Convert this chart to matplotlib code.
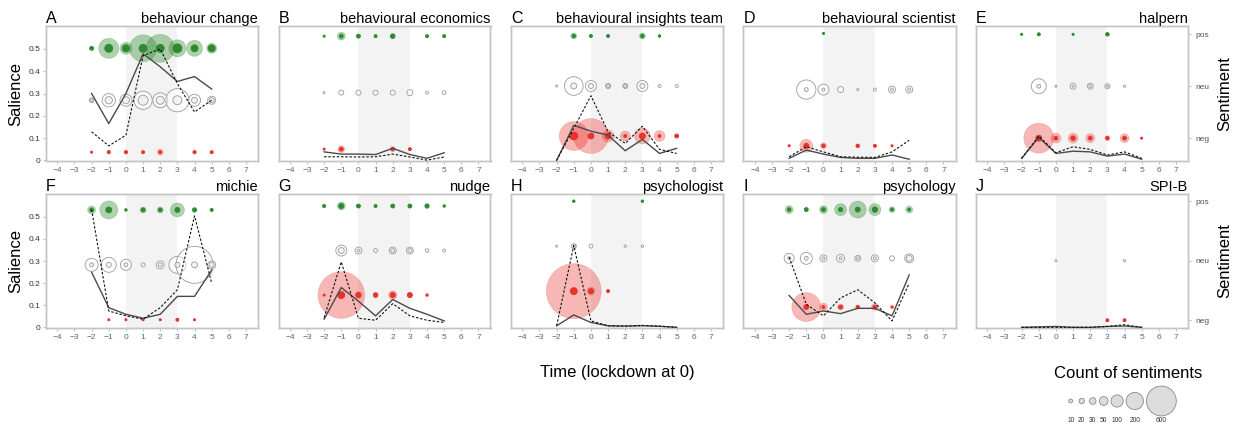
import numpy as np
import matplotlib.pyplot as plt

plt.rcParams['font.family'] = ['Liberation Sans', 'DejaVu Sans']

# --- Data ---
times = [-2, -1, 0, 1, 2, 3, 4, 5]
letters = ['A', 'B', 'C', 'D', 'E', 'F', 'G', 'H', 'I', 'J']
terms = ['behaviour change', 'behavioural economics', 'behavioural insights team',
         'behavioural scientist', 'halpern', 'michie', 'nudge', 'psychologist',
         'psychology', 'SPI-B']

# counts per time point (outer halo / inner dot) for each sentiment
pos_outer = [
    [10, 270, 97, 490, 527, 195, 172, 67],
    [3, 43, 10, 6, 14, 0, 6, 6],
    [0, 24, 6, 6, 0, 24, 4, 0],
    [0, 0, 3, 0, 0, 0, 0, 0],
    [3, 6, 0, 3, 0, 8, 0, 0],
    [43, 218, 4, 24, 24, 132, 17, 6],
    [6, 43, 10, 6, 10, 10, 17, 4],
    [0, 4, 0, 0, 0, 4, 0, 0],
    [43, 10, 43, 97, 195, 97, 24, 33],
    [0, 0, 0, 0, 0, 0, 0, 0],
]
pos_inner = [
    [10, 43, 36, 43, 43, 54, 33, 33],
    [3, 10, 10, 6, 14, 0, 6, 6],
    [0, 8, 6, 6, 0, 8, 4, 0],
    [0, 0, 3, 0, 0, 0, 0, 0],
    [3, 6, 0, 3, 0, 8, 0, 0],
    [10, 24, 4, 10, 10, 17, 10, 6],
    [6, 17, 10, 6, 10, 10, 10, 4],
    [0, 4, 0, 0, 0, 4, 0, 0],
    [10, 10, 10, 12, 17, 20, 6, 6],
    [0, 0, 0, 0, 0, 0, 0, 0],
]
neu_outer = [
    [15, 119, 97, 225, 150, 360, 97, 43],
    [3, 17, 17, 17, 17, 24, 6, 10],
    [3, 235, 81, 17, 17, 81, 6, 6],
    [0, 250, 81, 24, 3, 6, 33, 33],
    [0, 150, 3, 24, 24, 17, 3, 0],
    [114, 150, 81, 10, 43, 195, 920, 43],
    [0, 81, 33, 10, 33, 33, 8, 6],
    [3, 17, 10, 0, 4, 4, 0, 0],
    [67, 97, 33, 43, 24, 33, 17, 54],
    [0, 0, 3, 0, 0, 0, 3, 0],
]
neu_inner = [
    [5, 36, 33, 67, 43, 54, 24, 17],
    [0, 0, 0, 0, 0, 0, 0, 0],
    [0, 24, 17, 6, 6, 17, 0, 0],
    [0, 10, 6, 0, 0, 0, 6, 6],
    [0, 10, 0, 3, 6, 3, 0, 0],
    [10, 17, 10, 0, 10, 17, 24, 17],
    [0, 24, 6, 0, 10, 10, 0, 0],
    [0, 6, 0, 0, 0, 0, 0, 0],
    [6, 10, 6, 6, 6, 6, 0, 24],
    [0, 0, 0, 0, 0, 0, 0, 0],
]
neg_outer = [
    [3, 10, 10, 6, 24, 0, 10, 6],
    [3, 33, 0, 0, 17, 6, 0, 0],
    [0, 565, 823, 97, 67, 172, 81, 10],
    [3, 114, 24, 0, 8, 6, 3, 0],
    [0, 605, 67, 67, 54, 17, 54, 3],
    [0, 3, 3, 3, 3, 6, 3, 0],
    [3, 1465, 33, 14, 49, 17, 4, 0],
    [0, 2030, 43, 6, 0, 0, 0, 0],
    [0, 565, 43, 24, 8, 33, 4, 0],
    [0, 0, 0, 0, 0, 6, 6, 0],
]
neg_inner = [
    [3, 6, 6, 6, 6, 0, 6, 6],
    [3, 10, 0, 0, 8, 6, 0, 0],
    [0, 43, 24, 24, 6, 24, 6, 10],
    [3, 17, 8, 0, 8, 6, 3, 0],
    [0, 24, 10, 14, 10, 8, 10, 3],
    [0, 3, 3, 3, 3, 6, 3, 0],
    [3, 33, 17, 14, 17, 17, 4, 0],
    [0, 33, 17, 6, 0, 0, 0, 0],
    [0, 17, 6, 10, 8, 10, 4, 0],
    [0, 0, 0, 0, 0, 6, 6, 0],
]

salience_solid = [
    [0.30, 0.165, 0.30, 0.478, 0.42, 0.354, 0.376, 0.32],
    [0.038, 0.028, 0.028, 0.026, 0.054, 0.026, 0.009, 0.034],
    [0.0, 0.157, 0.131, 0.113, 0.043, 0.094, 0.031, 0.054],
    [0.009, 0.046, 0.028, 0.013, 0.009, 0.009, 0.024, 0.005],
    [0.009, 0.103, 0.031, 0.041, 0.038, 0.019, 0.028, 0.005],
    [0.249, 0.089, 0.059, 0.041, 0.059, 0.14, 0.14, 0.259],
    [0.037, 0.18, 0.118, 0.052, 0.126, 0.086, 0.059, 0.029],
    [0.007, 0.056, 0.022, 0.007, 0.006, 0.007, 0.005, 0.0],
    [0.144, 0.059, 0.074, 0.062, 0.086, 0.086, 0.052, 0.237],
    [0.0, 0.002, 0.004, 0.0, 0.0, 0.004, 0.006, 0.0],
]
salience_dashed = [
    [0.128, 0.065, 0.113, 0.47, 0.50, 0.344, 0.217, 0.27],
    [0.016, 0.016, 0.015, 0.016, 0.028, 0.015, 0.001, 0.015],
    [0.0, 0.143, 0.29, 0.128, 0.076, 0.153, 0.049, 0.031],
    [0.016, 0.061, 0.038, 0.016, 0.014, 0.013, 0.038, 0.09],
    [0.009, 0.109, 0.034, 0.061, 0.049, 0.024, 0.038, 0.009],
    [0.533, 0.074, 0.052, 0.037, 0.089, 0.17, 0.504, 0.2],
    [0.044, 0.296, 0.041, 0.032, 0.107, 0.052, 0.032, 0.022],
    [0.007, 0.37, 0.029, 0.007, 0.005, 0.009, 0.005, 0.0],
    [0.318, 0.104, 0.052, 0.133, 0.17, 0.111, 0.029, 0.2],
    [0.0, 0.0, 0.0, 0.0, 0.0, 0.004, 0.012, 0.0],
]

legend_counts = [10, 20, 30, 50, 100, 200, 600]

# --- Layout / style ---
sent_limits = [(-1.17, 1.43), (-1.21, 1.18), (-1.5, 1.2), (-1.27, 1.13), (-1.44, 1.16),
               (-1.15, 1.29), (-1.74, 1.27), (-1.82, 1.16), (-1.43, 1.32), (-1.13, 1.12)]
SIZE = 0.77          # marker area (pt^2) per counted item
W, H = 1235, 425
SPINE = '#c4c4c4'
TICK_BLUE = '#56648f'
GREEN, RED, GREY = '#2f8a2f', '#e8322c', '#9a9a9a'


def bubbles(ax, y, outer, inner, face_out, face_in, edge_out, edge_in):
    x = np.array(times)
    o = np.array(outer, float)
    i = np.array(inner, float)
    m = o > 0
    ax.scatter(x[m], np.full(m.sum(), y), s=o[m] * SIZE, c=[face_out],
               edgecolors=[edge_out], linewidths=0.6, zorder=2, clip_on=False)
    m = i > 0
    ax.scatter(x[m], np.full(m.sum(), y), s=i[m] * SIZE, c=[face_in],
               edgecolors=[edge_in], linewidths=0.6, zorder=3, clip_on=False)


fig = plt.figure(figsize=(W / 100, H / 100), dpi=100)

left0, width, step = 46 / W, 212 / W, 232.5 / W
rows = [(1 - 161 / H, 135 / H), (1 - 328 / H, 134 / H)]

for k in range(10):
    r, c = divmod(k, 5)
    ax = fig.add_axes([left0 + c * step, rows[r][0], width, rows[r][1]])
    ax2 = ax.twinx()
    ax.set_zorder(2)
    ax.patch.set_visible(False)
    ax2.set_zorder(1)

    ax2.axvspan(0, 3, color='#f3f3f3', zorder=0, lw=0)
    bubbles(ax2, 1, pos_outer[k], pos_inner[k], (0.18, 0.54, 0.18, 0.38), GREEN,
            (0.18, 0.54, 0.18, 0.25), GREEN)
    bubbles(ax2, 0, neu_outer[k], neu_inner[k], (1, 1, 1, 0.5), (0.92, 0.92, 0.92, 0.6),
            GREY, GREY)
    bubbles(ax2, -1, neg_outer[k], neg_inner[k], (0.91, 0.2, 0.17, 0.35), RED,
            (0.91, 0.2, 0.17, 0.2), RED)

    ax.plot(times, salience_solid[k], color='#4a4a4a', lw=1.0, zorder=4)
    ax.plot(times, salience_dashed[k], color='#111111', lw=0.8,
            ls=(0, (2.2, 1.6)), zorder=4)

    ax.set_xlim(-4.66, 7.7)
    ax.set_ylim(-0.003, 0.603)
    ax2.set_ylim(*sent_limits[k])

    ax.set_xticks(range(-4, 8))
    ax.tick_params(axis='x', labelsize=6, colors=SPINE, labelcolor=TICK_BLUE,
                   length=2, pad=2)
    if c == 0:
        ax.set_yticks([0, 0.1, 0.2, 0.3, 0.4, 0.5])
        ax.set_yticklabels(['0', '0.1', '0.2', '0.3', '0.4', '0.5'])
        ax.tick_params(axis='y', labelsize=6, colors=SPINE, labelcolor='#333333',
                       length=2, pad=2)
        ax.set_ylabel('Salience', fontsize=12, labelpad=4)
    else:
        ax.set_yticks([])
    if c == 4:
        ax2.set_yticks([-1, 0, 1])
        ax2.set_yticklabels(['neg', 'neu', 'pos'])
        ax2.tick_params(axis='y', labelsize=6, colors=SPINE, labelcolor='#555555',
                        length=2, pad=3)
        ax2.set_ylabel('Sentiment', fontsize=12, labelpad=6)
    else:
        ax2.set_yticks([])

    for a in (ax, ax2):
        for sp in a.spines.values():
            sp.set_color(SPINE)
            sp.set_linewidth(1.0)

    ax.set_title(letters[k], loc='left', fontsize=11.5, pad=2)
    ax.set_title(terms[k], loc='right', fontsize=10.5, pad=2)

fig.text(617 / W, 1 - 373 / H, 'Time (lockdown at 0)', fontsize=12,
         ha='center', va='center')
fig.text(1128 / W, 1 - 373 / H, 'Count of sentiments', fontsize=12,
         ha='center', va='center')

# size legend drawn in pixel space
lg = fig.add_axes([0, 0, 1, 1], zorder=0)
lg.set_xlim(0, W)
lg.set_ylim(H, 0)
lg.axis('off')
diam = [np.sqrt(n * SIZE) / 0.72 for n in legend_counts]
xs = [1070.7]
for a, b in zip(diam[:-1], diam[1:]):
    xs.append(xs[-1] + max(11.0, a / 2 + b / 2 + 3))
lg.scatter(xs, [401] * len(xs), s=[n * SIZE for n in legend_counts],
           c='#dcdcdc', edgecolors='#8a8a8a', linewidths=0.6)
for x, n in zip(xs, legend_counts):
    lg.text(x, 420, str(n), fontsize=4.8, ha='center', va='center', color='#333333')

fig.savefig('out.png', dpi=100, facecolor='white')
